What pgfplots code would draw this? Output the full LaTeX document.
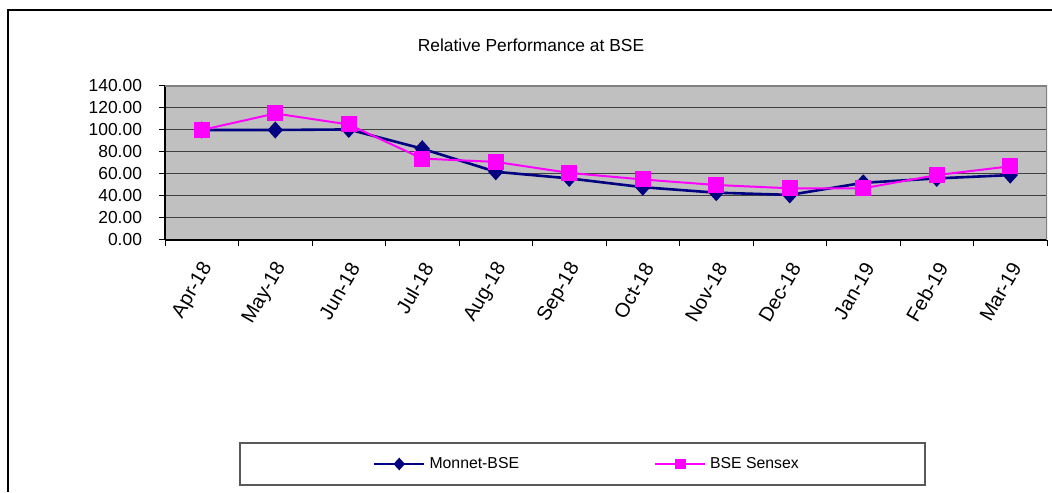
\documentclass[border=0pt]{standalone}
\usepackage{fontspec}
\setmainfont{Liberation Sans}
\usepackage{pgfplots}
\pgfplotsset{compat=1.18}
\definecolor{plotgray}{HTML}{C0C0C0}
\definecolor{navyblue}{HTML}{000080}
\definecolor{mag}{HTML}{FF00FF}
\begin{document}
\begin{tikzpicture}[font=\fontsize{8.7}{10}\selectfont]
\useasboundingbox (0,0) rectangle (526pt,246pt);
\draw[line width=1pt] (4pt,0) -- (4pt,241pt) -- (526pt,241pt);
\node at (265.5pt,223.5pt) {Relative Performance at BSE};
\draw[black!65, line width=0.6pt] (120pt,3.5pt) rectangle (462.5pt,24.5pt);
\begin{axis}[
  scale only axis, width=441pt, height=77pt,
  at={(82.5pt,126pt)}, anchor=south west,
  xmin=-0.5, xmax=11.5, ymin=0, ymax=140,
  axis background/.style={fill=plotgray},
  axis x line*=bottom, axis y line*=left,
  axis line style={black, line width=0.8pt},
  tick align=outside,
  major tick length=0pt,
  minor tick length=3pt,
  tick style={black, line width=0.5pt},
  xtick={0,1,2,3,4,5,6,7,8,9,10,11},
  xticklabels={Apr-18,May-18,Jun-18,Jul-18,Aug-18,Sep-18,Oct-18,Nov-18,Dec-18,Jan-19,Feb-19,Mar-19},
  minor xtick={-0.5,0.5,...,11.5},
  xticklabel style={font=\fontsize{10}{12}\selectfont, xshift=4.8pt, yshift=-9.25pt, rotate=60, anchor=east},
  ytick={0,20,...,140},
  minor ytick={0,20,...,140},
  ymajorgrids,
  major grid style={black!75, line width=0.5pt},
  /pgf/number format/assume math mode=true,
  yticklabel style={/pgf/number format/fixed, /pgf/number format/fixed zerofill, /pgf/number format/precision=2, xshift=-8pt},
  legend columns=2,
  legend style={draw=none, fill=none, font=\fontsize{7.9}{9}\selectfont, at={(axis description cs:0.2285,-1.4545)}, anchor=west,
    /tikz/every even column/.append style={column sep=65.5pt}},
  legend image code/.code={\draw[#1] (0pt,0pt) -- (25pt,0pt); \draw[#1, mark size=2.2pt] plot coordinates {(12.5pt,0pt)};},
]
\addplot[navyblue, line width=1.3pt, mark=diamond*, mark size=3.3pt, mark options={xscale=1.2}] coordinates {
(0,100) (1,100) (2,100.5) (3,83) (4,62) (5,56) (6,48) (7,43) (8,41) (9,52) (10,56) (11,59)};
\addlegendentry{Monnet-BSE}
\addplot[mag, line width=1pt, mark=square*, mark size=3.5pt] coordinates {
(0,100) (1,115) (2,105) (3,74) (4,71) (5,61) (6,55) (7,50) (8,47) (9,47) (10,59) (11,67)};
\addlegendentry{BSE Sensex}
\draw[black!50, line width=1pt] (rel axis cs:0,1) -- (rel axis cs:1,1) -- (rel axis cs:1,0);
\end{axis}
\end{tikzpicture}
\end{document}
